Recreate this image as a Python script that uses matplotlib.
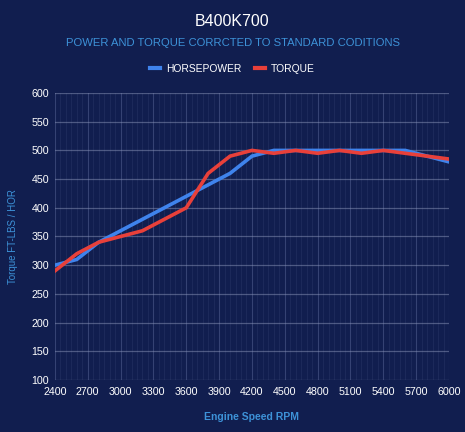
import matplotlib
matplotlib.use("Agg")
import matplotlib.pyplot as plt
from matplotlib.lines import Line2D
import numpy as np

plt.rcParams['font.family'] = ['Liberation Sans', 'DejaVu Sans']

rpm = [2400, 2600, 2800, 3000, 3200, 3400, 3600, 3800, 4000, 4200,
       4400, 4600, 4800, 5000, 5200, 5400, 5600, 5800, 6000]
horsepower = [300, 310, 340, 360, 380, 400, 420, 440, 460, 490,
              500, 500, 500, 500, 500, 500, 500, 490, 480]
torque = [290, 320, 340, 350, 360, 380, 400, 460, 490, 500,
          495, 500, 495, 500, 495, 500, 495, 490, 485]
xticks = list(range(2400, 6001, 300))
yticks = list(range(100, 601, 50))

BG = '#111e4f'
BLUE = '#3f83ec'
RED = '#e8403a'
LABEL = '#3d92d8'

fig = plt.figure(figsize=(4.65, 4.32), dpi=100, facecolor=BG)
ax = fig.add_axes([0.118, 0.1204, 0.8476, 0.6643], facecolor=BG)

# grids
for x in np.arange(2400, 6001, 50):
    ax.axvline(x, color='#8090c0', lw=0.6, alpha=0.12, zorder=0)
for x in xticks:
    ax.axvline(x, color='#8090c0', lw=0.8, alpha=0.25, zorder=0)
for y in yticks:
    ax.axhline(y, color='#8a94b8', lw=0.9, alpha=0.5, zorder=0)

ax.plot(rpm, horsepower, color=BLUE, lw=2.6, zorder=3, solid_joinstyle='miter')
ax.plot(rpm, torque, color=RED, lw=2.6, zorder=4, solid_joinstyle='miter')

ax.set_xlim(2400, 6000)
ax.set_ylim(100, 600)
ax.set_xticks(xticks)
ax.set_yticks(yticks)
ax.tick_params(axis='both', colors='white', labelsize=7.7, length=0, pad=3)
ax.tick_params(axis='x', pad=5)
ax.tick_params(axis='y', pad=4)
for s in ax.spines.values():
    s.set_visible(False)

ax.set_ylabel('Torque FT-LBS / HOR', color=LABEL, fontsize=7, labelpad=10)
ax.set_xlabel('Engine Speed RPM', color=LABEL, fontsize=7.5, labelpad=11, fontweight='bold')

fig.text(0.5, 1 - 22/432, 'B400K700', color='white', fontsize=11.5, ha='center', va='center')
fig.text(0.5, 1 - 43/432, 'POWER AND TORQUE CORRCTED TO STANDARD CODITIONS',
         color=LABEL, fontsize=8.1, ha='center', va='center')

handles = [Line2D([0], [0], color=BLUE, lw=3), Line2D([0], [0], color=RED, lw=3)]
leg = fig.legend(handles, ['HORSEPOWER', 'TORQUE'], loc='center', ncol=2,
                 bbox_to_anchor=(0.5, 1 - 69/432), frameon=False, fontsize=7.4,
                 handlelength=0.9, handletextpad=0.6, columnspacing=1.4)
for t in leg.get_texts():
    t.set_color('white')

fig.savefig('out.png', dpi=100, facecolor=BG)
